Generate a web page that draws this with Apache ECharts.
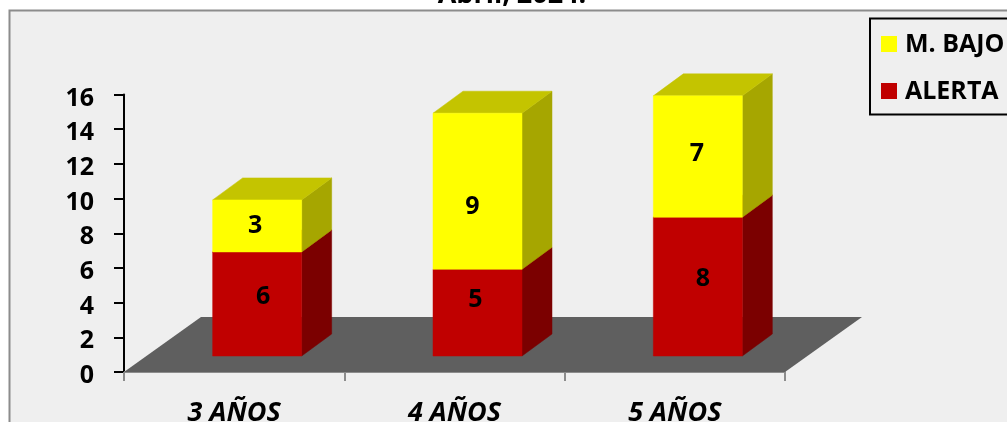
<!DOCTYPE html>
<html><head><meta charset="utf-8">
<style>html,body{margin:0;padding:0;background:#fff}#c{width:1007px;height:422px}</style>
<script src="https://cdn.jsdelivr.net/npm/echarts@6/dist/echarts.min.js"></script>
</head><body><div id="c"></div>
<script>
var categories = ['3 AÑOS', '4 AÑOS', '5 AÑOS'];
var alerta = [6, 5, 8];
var mBajo = [3, 9, 7];
var yTicks = [0, 16];
var FONT = '"Open Sans","Noto Sans",sans-serif';
var DX = 30, DY = 22, LIFT = 16, BAR_W = 89, SHIFT = 23;
// hand-placed data labels in the reference, offset from each segment's centre
var alertaLabelNudge = [[6, -8], [-2, -14], [5, -9]];
var mBajoLabelNudge = [[-2, -1], [-5, 15], [-1, -4]];

function boxSeries(name, vals, base, nudge, front, top, side) {
  return {
    name: name, type: 'custom', z: 3,
    data: vals.map(function (v, i) { return [i, base[i], base[i] + v, v]; }),
    encode: {x: 0, y: [1, 2]},
    renderItem: function (params, api) {
      var i = api.value(0), from = api.value(1), to = api.value(2), v = api.value(3);
      var a = api.coord([i, from]), b = api.coord([i, to]);
      var xl = a[0] - BAR_W / 2 + SHIFT, xr = xl + BAR_W;
      var yb = a[1] - LIFT, yt = b[1] - LIFT;
      function poly(pts, fill) {
        return {type: 'polygon', shape: {points: pts}, style: {fill: fill, stroke: fill, lineWidth: 0.5}};
      }
      return {type: 'group', children: [
        poly([[xr, yb], [xr + DX, yb - DY], [xr + DX, yt - DY], [xr, yt]], side),
        poly([[xl, yt], [xr, yt], [xr + DX, yt - DY], [xl + DX, yt - DY]], top),
        poly([[xl, yb], [xr, yb], [xr, yt], [xl, yt]], front),
        {type: 'text', z2: 10, style: {
          text: String(v), x: (xl + xr) / 2 + nudge[i][0], y: (yb + yt) / 2 + nudge[i][1] + 1,
          align: 'center', verticalAlign: 'middle', font: '700 25px ' + FONT, fill: '#000'
        }}
      ]};
    },
    itemStyle: {color: front}
  };
}
var chart = echarts.init(document.getElementById('c'), null, {renderer: 'canvas'});
chart.setOption({
  animation: false,
  backgroundColor: '#fff',
  graphic: [
    {type: 'rect', z: -10, shape: {x: 9.5, y: 10.5, width: 1010, height: 430}, style: {fill: '#efefef', stroke: '#8c8c8c', lineWidth: 2}},
    {type: 'rect', z: 20, shape: {x: 870, y: 18.5, width: 150, height: 96}, style: {fill: '#efefef', stroke: '#000', lineWidth: 2}},
    {type: 'rect', z: 21, shape: {x: 881, y: 36, width: 16, height: 16}, style: {fill: '#ffff00'}},
    {type: 'rect', z: 21, shape: {x: 881, y: 83, width: 16, height: 16}, style: {fill: '#c00000'}},
    {type: 'text', z: 21, style: {text: 'M. BAJO', x: 905, y: 45, verticalAlign: 'middle', font: '700 25px ' + FONT, fill: '#000'}},
    {type: 'text', z: 21, style: {text: 'ALERTA', x: 905, y: 92, verticalAlign: 'middle', font: '700 25px ' + FONT, fill: '#000'}},
    {type: 'text', z: 21, style: {text: 'Abril, 2024.', x: 512, y: -18, align: 'center', verticalAlign: 'top', font: '700 27px ' + FONT, fill: '#000'}}
  ],
  grid: {left: 124, top: 94.5, width: 661, height: 277.5, containLabel: false, outerBoundsMode: 'none'},
  xAxis: {
    type: 'category', data: categories,
    axisLine: {show: true, lineStyle: {color: '#8c8c8c', width: 2}},
    axisTick: {show: true, inside: false, length: 9, alignWithLabel: false, lineStyle: {color: '#8c8c8c', width: 2}},
    axisLabel: {color: '#000', fontFamily: FONT, fontWeight: 700, fontStyle: 'italic', fontSize: 27, margin: 28, interval: 0}
  },
  yAxis: {
    type: 'value', min: yTicks[0], max: yTicks[1], interval: 2,
    axisLine: {show: true, onZero: false, lineStyle: {color: '#000', width: 2}},
    axisTick: {show: true, length: 10, lineStyle: {color: '#000', width: 2}},
    axisLabel: {color: '#000', fontFamily: FONT, fontWeight: 700, fontSize: 25, margin: 30, verticalAlign: 'top', lineHeight: 8},
    splitLine: {show: false}
  },
  series: [
    {
      type: 'custom', z: 1, silent: true, data: [[0]],
      renderItem: function (params, api) {
        var r = params.coordSys;
        var x0 = r.x, x1 = r.x + r.width, y = r.y + r.height;
        return {type: 'polygon', shape: {points: [[x0, y], [x1, y], [x1 + 77, y - 55], [x0 + 77, y - 55]]}, style: {fill: '#5f5f5f'}};
      }
    },
    boxSeries('ALERTA', alerta, [0, 0, 0], alertaLabelNudge, '#c00000', '#9a0000', '#7b0000'),
    boxSeries('M. BAJO', mBajo, alerta, mBajoLabelNudge, '#ffff00', '#c4c400', '#a6a600')
  ]
});
</script></body></html>
